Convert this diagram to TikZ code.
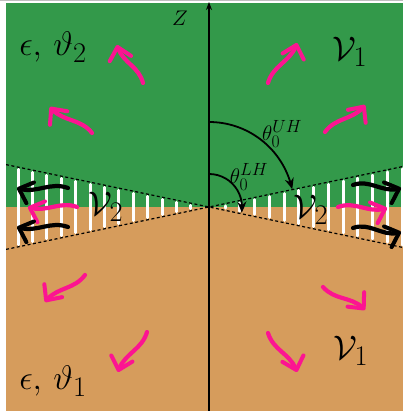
\documentclass[tikz,border=0pt]{standalone}
\usepackage{amsmath,amssymb}
\usetikzlibrary{arrows.meta,bending}
\definecolor{fieldgreen}{RGB}{51,153,74}
\definecolor{fieldtan}{RGB}{214,156,92}
\definecolor{flowpink}{RGB}{252,20,145}

\begin{document}
\begin{tikzpicture}[x=1pt, y=1pt,
    flow/.style={line width=4.2pt, line cap=round, flowpink,
        -{Straight Barb[length=12pt, width=22pt, line width=4pt, round]}},
    blackflow/.style={flow, black},
    hatchbar/.style={white, line width=3pt, line cap=round},
    frontline/.style={black, line width=1.2pt, dash pattern=on 3pt off 2.5pt},
    angarr/.style={black, line width=1.8pt, -{Stealth[length=11pt, width=9pt, bend]}},
    biglab/.style={font=\Huge, scale=1.37, inner sep=0pt},
    smalllab/.style={font=\Huge, scale=0.85, inner sep=0pt}
]
    \useasboundingbox (0,0) rectangle (403,411);
    \draw[black!25, line width=0.8pt] (0,410.6) -- (403,410.6);

    % ---- Two half-spaces ----
    \fill[fieldgreen] (6,204) rectangle (403,408);
    \fill[fieldtan] (6,0) rectangle (403,204);

    \coordinate (O) at (209,204);
    \coordinate (ul) at (6,246.4);
    \coordinate (lr) at (403,163.5);
    \coordinate (ll) at (6,161.6);
    \coordinate (ur) at (403,244.5);

    % ---- Hatched wedge (region 2) ----
    \begin{scope}
        \clip (6,0) rectangle (403,408);
        \foreach \x in {18,32.4,...,191,225,239.75,...,403} {
            \pgfmathsetmacro\h{max(0.209*abs(\x-209)-2.2,0.6)}
            \draw[hatchbar] (\x,204-\h) -- (\x,204+\h);
        }
        \draw[frontline] (ul) -- (lr);
        \draw[frontline] (ll) -- (ur);
    \end{scope}

    % ---- Axis and angles ----
    \coordinate (zbot) at (209,0);
    \coordinate (ztop) at (209,409);
    \draw[line width=1.3pt, -{Stealth[length=8pt, width=6pt]}] (zbot) -- (ztop);
    \node[smalllab] (zlab) at (180,393) {$Z$};

    \draw[angarr] ([yshift=85pt]O) arc[start angle=90, end angle=12, radius=85pt];
    \draw[angarr] ([yshift=33pt]O) arc[start angle=90, end angle=-10, radius=33pt];
    \node[smalllab] (thu) at (282,277) {$\theta_0^{UH}$};
    \node[smalllab] (thl) at (249,234) {$\theta_0^{LH}$};

    % ---- Flow in region 1 ----
    \draw[flow] (143,328) to[out=104, in=284] (117,366);
    \draw[flow] (92,278) to[out=128, in=308] (50,304);
    \draw[flow] (268,328) to[out=74, in=254] (297,368);
    \draw[flow] (325,279) to[out=54, in=234] (365,306);
    \draw[flow] (85,136) to[out=234, in=54] (45,109);
    \draw[flow] (147,79) to[out=254, in=74] (118,39);
    \draw[flow] (323,124) to[out=-49, in=131] (365,101);
    \draw[flow] (268,78) to[out=-73, in=107] (297,39);

    % ---- Flow in region 2 ----
    \draw[blackflow] (68,223) to[out=160, in=340] (17,223);
    \draw[flow] (77,204) to[out=160, in=340] (28,204);
    \draw[blackflow] (68,184) to[out=160, in=340] (17,184);
    \draw[blackflow] (353,226) to[out=20, in=200] (401,223);
    \draw[flow] (338,204) to[out=20, in=200] (387,203);
    \draw[blackflow] (353,183) to[out=20, in=200] (401,179);

    % ---- Labels ----
    \node[biglab] (e2) at (53,364) {$\epsilon,\,\vartheta_2$};
    \node[biglab] (e1) at (53,30) {$\epsilon,\,\vartheta_1$};
    \node[biglab] (v1u) at (350,359) {$\mathcal{V}_1$};
    \node[biglab] (v1d) at (351,60) {$\mathcal{V}_1$};
    \node[biglab] (v2l) at (106,204) {$\mathcal{V}_2$};
    \node[biglab] (v2r) at (311,201) {$\mathcal{V}_2$};
\end{tikzpicture}
\end{document}
